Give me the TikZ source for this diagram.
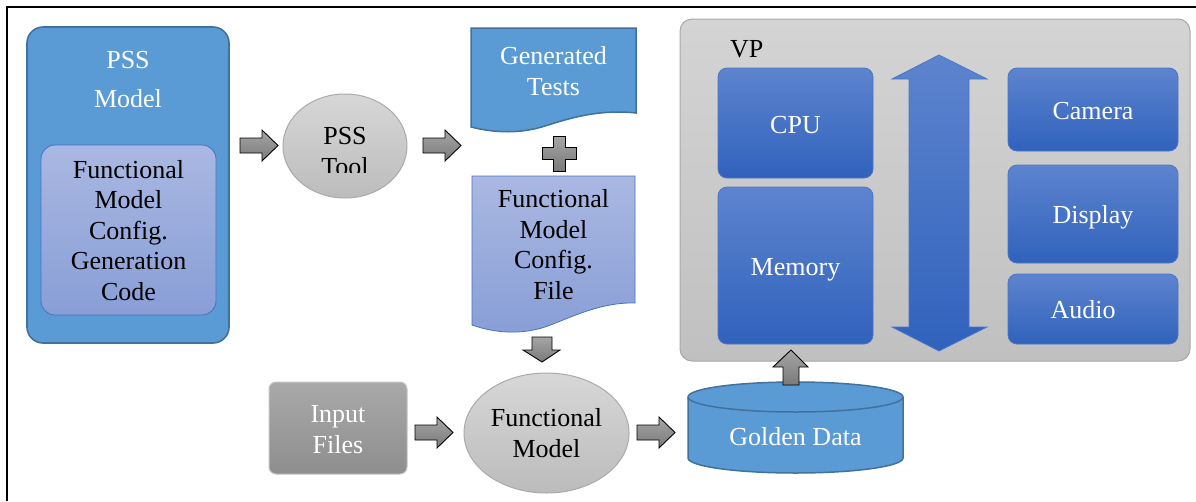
\documentclass[tikz,border=0pt]{standalone}
\usepackage{fontspec}
\setmainfont{Liberation Serif}
\usetikzlibrary{shapes.geometric}
\definecolor{bluefill}{HTML}{5B9BD5}
\definecolor{blueline}{HTML}{41719C}
\definecolor{lavtop}{HTML}{AAB8E2}
\definecolor{lavbot}{HTML}{889ED6}
\definecolor{lavline}{HTML}{4472C4}
\definecolor{dbtop}{HTML}{5D84CE}
\definecolor{dbbot}{HTML}{3062BC}
\definecolor{dbline}{HTML}{4A76C8}
\definecolor{vptop}{HTML}{D4D4D4}
\definecolor{vpbot}{HTML}{C0C0C0}
\definecolor{vpline}{HTML}{A8A8A8}
\definecolor{eltop}{HTML}{D7D7D7}
\definecolor{elbot}{HTML}{BCBCBC}
\definecolor{eline}{HTML}{AAAAAA}
\definecolor{intop}{HTML}{A9A9A9}
\definecolor{inbot}{HTML}{8E8E8E}
\definecolor{inline}{HTML}{C4C4C4}
\definecolor{artop}{HTML}{A5A5A5}
\definecolor{arbot}{HTML}{7A7A7A}
\begin{document}
\begin{tikzpicture}[x=1pt,y=-1pt,
  txt/.style={font=\fontsize{26}{30.5}\selectfont, align=center, inner sep=0pt, anchor=base, text=black},
  wtxt/.style={txt, text=white},
  bluebox/.style={draw=blueline, line width=1.6pt, fill=bluefill},
  lavbox/.style={draw=lavline, line width=0.8pt, top color=lavtop, bottom color=lavbot},
  darkbox/.style={draw=dbline, line width=0.8pt, top color=dbtop, bottom color=dbbot, rounded corners=9, inner sep=0pt},
  vpbox/.style={draw=vpline, line width=1pt, top color=vptop, bottom color=vpbot, rounded corners=12, inner sep=0pt},
  grayell/.style={ellipse, draw=eline, line width=1pt, top color=eltop, bottom color=elbot, inner sep=0pt},
  inbox/.style={draw=inline, line width=1pt, top color=intop, bottom color=inbot, rounded corners=7, inner sep=0pt},
  blockarrow/.style={draw=black, line width=0.9pt, top color=artop, bottom color=arbot, line join=miter},
  dbarrow/.style={draw=dbline, line width=0.8pt, top color=dbtop, bottom color=dbbot}]
\useasboundingbox (0,0) rectangle (1196,501);
% frame
\draw[line width=2pt] (6.5,501) -- (6.5,6.5) -- (1196,6.5);

% PSS Model
\node[bluebox, rounded corners=16, minimum width=202, minimum height=316, inner sep=0pt] (pss) at (128,185) {};
\node[wtxt] (pssA) at (128,68) {PSS};
\node[wtxt] (pssB) at (128,107) {Model};
\node[lavbox, rounded corners=14, minimum width=175, minimum height=170, inner sep=0pt] (inner) at (128.5,230) {};
\node[txt] (innertxt) at (128.5,300) {Functional\\Model\\Config.\\Generation\\Code};

% arrow 1
\path[blockarrow] (240,138) -- (262,138) -- (262,130) -- (278,145.5) -- (262,161) -- (262,153) -- (240,153) -- cycle;

% PSS Tool
\node[grayell, minimum width=124, minimum height=104] (tool) at (345,146) {};
\begin{scope}
\clip (280,90) rectangle (410,172.8);
\node[txt] (toolA) at (345,144) {PSS};
\node[txt] (toolB) at (345,175) {Tool};
\end{scope}

% arrow 2
\path[blockarrow] (423,138) -- (445,138) -- (445,130) -- (461,145.5) -- (445,161) -- (445,153) -- (423,153) -- cycle;

% Generated Tests
\path[draw=blueline, line width=1.5pt, fill=bluefill] (471,28) -- (636,28) -- (636,113)
  .. controls (600,109) and (570,118) .. (545,126)
  .. controls (520,134) and (495,133) .. (471,127) -- cycle;
\node[wtxt] (gt) at (553.5,95) {Generated\\Tests};

% plus
\path[blockarrow] (553,136) -- (565,136) -- (565,147) -- (576,147) -- (576,159) -- (565,159) -- (565,171) -- (553,171) -- (553,159) -- (542,159) -- (542,147) -- (553,147) -- cycle;

% Config file
\path[draw=lavline, line width=0.8pt, top color=lavtop, bottom color=lavbot] (472,176) -- (635,176) -- (635,303)
  .. controls (600,302) and (570,318) .. (545,327)
  .. controls (520,335) and (495,333) .. (472,325) -- cycle;
\node[txt] (cfg) at (553.5,299) {Functional\\Model\\Config.\\File};

% down arrow
\path[blockarrow] (532,337) -- (552,337) -- (552,350) -- (560,350) -- (542,362) -- (523,350) -- (532,350) -- cycle;

% Input Files
\node[inbox, minimum width=138, minimum height=92] (input) at (338,428) {};
\node[wtxt] (inputtxt) at (338,453) {Input\\Files};

% arrow 3
\path[blockarrow] (415,425) -- (437,425) -- (437,417) -- (453,432.5) -- (437,448) -- (437,440) -- (415,440) -- cycle;

% Functional Model
\node[grayell, minimum width=165, minimum height=120] (fm) at (546.5,433) {};
\node[txt] (fmtxt) at (546.5,457) {Functional\\Model};

% arrow 4
\path[blockarrow] (637,425) -- (659,425) -- (659,417) -- (675,432.5) -- (659,448) -- (659,440) -- (637,440) -- cycle;

% Golden Data cylinder
\path[draw=blueline, line width=1.5pt, fill=bluefill, line join=round] (688,397) -- (688,458)
  .. controls (688,466.3) and (736.1,473) .. (795.5,473)
  .. controls (854.9,473) and (903,466.3) .. (903,458) -- (903,397)
  .. controls (903,388.7) and (854.9,382) .. (795.5,382)
  .. controls (736.1,382) and (688,388.7) .. (688,397) -- cycle;
\draw[blueline, line width=1.5pt] (688,397) .. controls (688,405.3) and (736.1,412) .. (795.5,412)
  .. controls (854.9,412) and (903,405.3) .. (903,397);
\node[wtxt] (gd) at (795.5,445) {Golden Data};

% VP
\node[vpbox, minimum width=510, minimum height=342] (vp) at (935,190) {};
\node[txt, anchor=base west] (vplabel) at (730,57) {VP};
\node[darkbox, minimum width=155, minimum height=110] (cpu) at (795.5,123) {};
\node[wtxt] (cputxt) at (795.5,133) {CPU};
\node[darkbox, minimum width=155, minimum height=157] (mem) at (795.5,265.5) {};
\node[wtxt] (memtxt) at (795.5,275) {Memory};
\path[dbarrow] (939,55) -- (987,79) -- (969,79) -- (969,327) -- (987,327) -- (939,351) -- (892,327) -- (909,327) -- (909,79) -- (892,79) -- cycle;
\node[darkbox, minimum width=170, minimum height=83] (cam) at (1093,109.5) {};
\node[wtxt] (camtxt) at (1093,119) {Camera};
\node[darkbox, minimum width=170, minimum height=98] (disp) at (1093,214) {};
\node[wtxt] (disptxt) at (1093,223) {Display};
\node[darkbox, minimum width=170, minimum height=70] (aud) at (1093,309) {};
\node[wtxt] (audtxt) at (1083,318) {Audio};

% up arrow
\path[blockarrow] (791,350) -- (808,367) -- (799,367) -- (799,385) -- (783,385) -- (783,367) -- (773,367) -- cycle;
\end{tikzpicture}
\end{document}
